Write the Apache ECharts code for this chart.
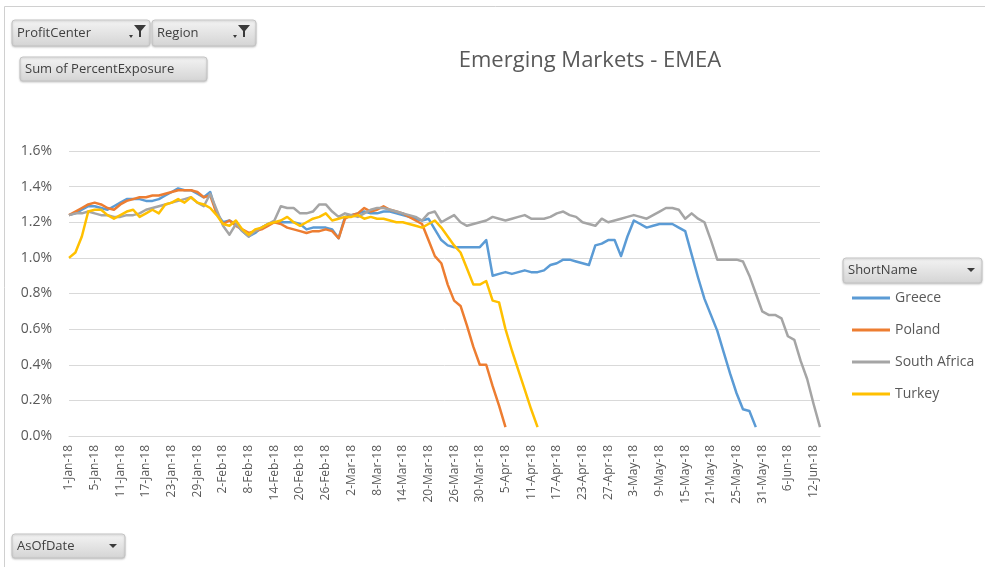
<!DOCTYPE html>
<html>
<head>
<meta charset="utf-8">
<script src="https://cdn.jsdelivr.net/npm/echarts@6/dist/echarts.min.js"></script>
<style>
html,body{margin:0;padding:0;background:#fff;}
#chart{width:985px;height:567px;}
</style>
</head>
<body>
<div id="chart"></div>
<script>
// Categories: business days (AsOfDate)
const dates = [
"1-Jan-18","2-Jan-18","3-Jan-18","4-Jan-18","5-Jan-18","8-Jan-18","9-Jan-18","10-Jan-18","11-Jan-18","12-Jan-18",
"15-Jan-18","16-Jan-18","17-Jan-18","18-Jan-18","19-Jan-18","22-Jan-18","23-Jan-18","24-Jan-18","25-Jan-18","26-Jan-18",
"29-Jan-18","30-Jan-18","31-Jan-18",
"1-Feb-18","2-Feb-18","5-Feb-18","6-Feb-18","7-Feb-18","8-Feb-18","9-Feb-18","12-Feb-18","13-Feb-18","14-Feb-18",
"15-Feb-18","16-Feb-18","19-Feb-18","20-Feb-18","21-Feb-18","22-Feb-18","23-Feb-18","26-Feb-18","27-Feb-18","28-Feb-18",
"1-Mar-18","2-Mar-18","5-Mar-18","6-Mar-18","7-Mar-18","8-Mar-18","9-Mar-18","12-Mar-18","13-Mar-18","14-Mar-18",
"15-Mar-18","16-Mar-18","19-Mar-18","20-Mar-18","21-Mar-18","22-Mar-18","23-Mar-18","26-Mar-18","27-Mar-18","28-Mar-18",
"29-Mar-18","30-Mar-18",
"2-Apr-18","3-Apr-18","4-Apr-18","5-Apr-18","6-Apr-18","9-Apr-18","10-Apr-18","11-Apr-18","12-Apr-18","13-Apr-18",
"16-Apr-18","17-Apr-18","18-Apr-18","19-Apr-18","20-Apr-18","23-Apr-18","24-Apr-18","25-Apr-18","26-Apr-18","27-Apr-18",
"30-Apr-18",
"1-May-18","2-May-18","3-May-18","4-May-18","7-May-18","8-May-18","9-May-18","10-May-18","11-May-18","14-May-18",
"15-May-18","16-May-18","17-May-18","18-May-18","21-May-18","22-May-18","23-May-18","24-May-18","25-May-18","28-May-18",
"29-May-18","30-May-18","31-May-18",
"1-Jun-18","4-Jun-18","5-Jun-18","6-Jun-18","7-Jun-18","8-Jun-18","11-Jun-18","12-Jun-18","13-Jun-18"
];

// Sum of PercentExposure (in %)
const greece = [
1.24,1.25,1.27,1.29,1.29,1.28,1.27,1.29,1.31,1.33,
1.33,1.33,1.32,1.32,1.33,1.35,1.37,1.39,1.38,1.38,
1.36,1.34,1.37,1.25,1.20,1.21,1.19,1.15,1.12,1.14,
1.17,1.19,1.20,1.20,1.20,1.20,1.19,1.16,1.17,1.17,
1.17,1.16,1.11,1.23,1.24,1.25,1.26,1.25,1.25,1.26,
1.26,1.25,1.24,1.23,1.22,1.21,1.22,1.16,1.10,1.07,
1.06,1.06,1.06,1.06,1.06,1.10,0.90,0.91,0.92,0.91,
0.92,0.93,0.92,0.92,0.93,0.96,0.97,0.99,0.99,0.98,
0.97,0.96,1.07,1.08,1.10,1.10,1.01,1.12,1.21,1.19,
1.17,1.18,1.19,1.19,1.19,1.17,1.15,1.02,0.89,0.77,
0.68,0.59,0.47,0.35,0.24,0.15,0.14,0.05
];
const poland = [
1.24,1.26,1.28,1.30,1.31,1.30,1.28,1.27,1.30,1.32,
1.33,1.34,1.34,1.35,1.35,1.36,1.37,1.38,1.38,1.38,
1.37,1.34,1.35,1.25,1.19,1.21,1.18,1.16,1.14,1.15,
1.16,1.18,1.20,1.19,1.17,1.16,1.15,1.14,1.15,1.15,
1.16,1.15,1.11,1.22,1.24,1.25,1.28,1.26,1.27,1.29,
1.27,1.26,1.25,1.23,1.21,1.19,1.10,1.01,0.97,0.85,
0.76,0.73,0.62,0.50,0.40,0.40,0.28,0.17,0.05
];
const southAfrica = [
1.24,1.25,1.25,1.26,1.25,1.24,1.24,1.23,1.23,1.24,
1.24,1.25,1.27,1.28,1.29,1.30,1.31,1.32,1.33,1.34,
1.31,1.29,1.36,1.27,1.18,1.13,1.19,1.15,1.12,1.15,
1.17,1.19,1.21,1.29,1.28,1.28,1.25,1.25,1.26,1.30,
1.30,1.26,1.23,1.25,1.24,1.23,1.25,1.27,1.28,1.28,
1.27,1.26,1.25,1.24,1.23,1.21,1.25,1.26,1.20,1.22,
1.24,1.20,1.18,1.19,1.20,1.21,1.23,1.22,1.21,1.22,
1.23,1.24,1.22,1.22,1.22,1.23,1.25,1.26,1.24,1.23,
1.20,1.19,1.18,1.22,1.20,1.21,1.22,1.23,1.24,1.23,
1.22,1.24,1.26,1.28,1.28,1.27,1.22,1.25,1.22,1.20,
1.10,0.99,0.99,0.99,0.99,0.98,0.90,0.80,0.70,0.68,
0.68,0.66,0.56,0.54,0.42,0.32,0.18,0.05
];
const turkey = [
1.00,1.03,1.12,1.26,1.27,1.27,1.24,1.22,1.24,1.26,
1.27,1.23,1.25,1.27,1.25,1.30,1.31,1.33,1.31,1.34,
1.31,1.30,1.28,1.24,1.19,1.18,1.21,1.16,1.13,1.16,
1.17,1.19,1.20,1.21,1.23,1.20,1.18,1.20,1.22,1.23,
1.25,1.21,1.22,1.23,1.23,1.24,1.22,1.23,1.22,1.22,
1.21,1.20,1.20,1.19,1.18,1.17,1.19,1.21,1.17,1.12,
1.07,1.03,0.94,0.85,0.85,0.87,0.76,0.75,0.60,0.48,
0.37,0.26,0.15,0.05
];
const seriesNames = ["Greece","Poland","South Africa","Turkey"];
const seriesValues = [greece, poland, southAfrica, turkey];
const seriesColors = ["#5B9BD5","#ED7D31","#A5A5A5","#FFC000"];

const FONT = "Open Sans";
const TXT = "#595959";

function button(x, y, w, h, label, fontSize, extra) {
  const els = [{
    type: 'rect', shape: {x: x, y: y, width: w, height: h, r: 3},
    style: {
      fill: {type: 'linear', x: 0, y: 0, x2: 0, y2: 1,
        colorStops: [{offset: 0, color: '#f4f4f4'}, {offset: 1, color: '#d4d4d4'}]},
      stroke: '#c4c4c4', lineWidth: 1,
      shadowBlur: 2, shadowColor: 'rgba(0,0,0,0.18)', shadowOffsetY: 1
    }
  }, {
    type: 'text', x: x + 5, y: y + h / 2,
    style: {text: label, font: fontSize + 'px "' + FONT + '"', fill: '#404040', verticalAlign: 'middle'}
  }];
  return els.concat(extra || []);
}
function funnel(x, y) {
  return [{
    type: 'polygon',
    shape: {points: [[x, y], [x + 12, y], [x + 7, y + 6], [x + 7, y + 12], [x + 5, y + 12], [x + 5, y + 6]]},
    style: {fill: '#3a3a3a'}
  }, {
    type: 'polygon',
    shape: {points: [[x - 5, y + 10], [x - 1, y + 10], [x - 3, y + 13]]},
    style: {fill: '#3a3a3a'}
  }];
}
function dropArrow(x, y) {
  return [{
    type: 'polygon',
    shape: {points: [[x - 4, y - 2], [x + 4, y - 2], [x, y + 2]]},
    style: {fill: '#3a3a3a'}
  }];
}

const graphics = [].concat(
  [{type: 'rect', shape: {x: 4.5, y: 6.5, width: 1000, height: 600}, style: {fill: null, stroke: '#d0d0d0', lineWidth: 1}, silent: true}],
  button(12, 20, 138, 26, 'ProfitCenter', 13, funnel(134, 25)),
  button(152, 20, 104, 26, 'Region', 13, funnel(238, 25)),
  button(20, 57, 187, 24, 'Sum of PercentExposure', 13),
  button(843, 258, 139, 25, 'ShortName', 13, dropArrow(971, 270)),
  button(12, 534, 113, 24, 'AsOfDate', 13, dropArrow(113, 546))
);

const chart = echarts.init(document.getElementById('chart'), null, {renderer: 'canvas'});
chart.setOption({
  animation: false,
  backgroundColor: '#ffffff',
  title: {
    text: 'Emerging Markets - EMEA',
    left: 585, top: 45, textAlign: 'center',
    textStyle: {fontFamily: FONT, fontSize: 22, fontWeight: 'normal', color: TXT}
  },
  grid: {left: 69, right: 165, top: 151, bottom: 131, containLabel: false},
  legend: {
    orient: 'vertical', left: 852, top: 290, padding: 0,
    icon: 'rect', itemWidth: 38, itemHeight: 3, itemGap: 16,
    textStyle: {fontFamily: FONT, fontSize: 14, color: TXT, lineHeight: 16},
    data: seriesNames
  },
  xAxis: {
    type: 'category', data: dates, boundaryGap: false,
    axisLine: {show: true, lineStyle: {color: '#d9d9d9'}},
    axisTick: {show: false},
    axisLabel: {interval: 3, rotate: 90, margin: 9, fontFamily: FONT, fontSize: 12, color: TXT},
    splitLine: {show: false}
  },
  yAxis: {
    type: 'value', min: 0, max: 1.6, interval: 0.2,
    axisLine: {show: false}, axisTick: {show: false},
    axisLabel: {margin: 17, fontFamily: FONT, fontSize: 14, color: TXT,
      formatter: v => v.toFixed(1) + '%'},
    splitLine: {lineStyle: {color: '#d9d9d9', width: 1}}
  },
  series: seriesNames.map((n, i) => ({
    name: n, type: 'line', data: seriesValues[i], showSymbol: false, symbol: 'none',
    connectNulls: false,
    lineStyle: {color: seriesColors[i], width: 2.5, join: 'round'},
    itemStyle: {color: seriesColors[i]}
  })),
  graphic: graphics
});
</script>
</body>
</html>
